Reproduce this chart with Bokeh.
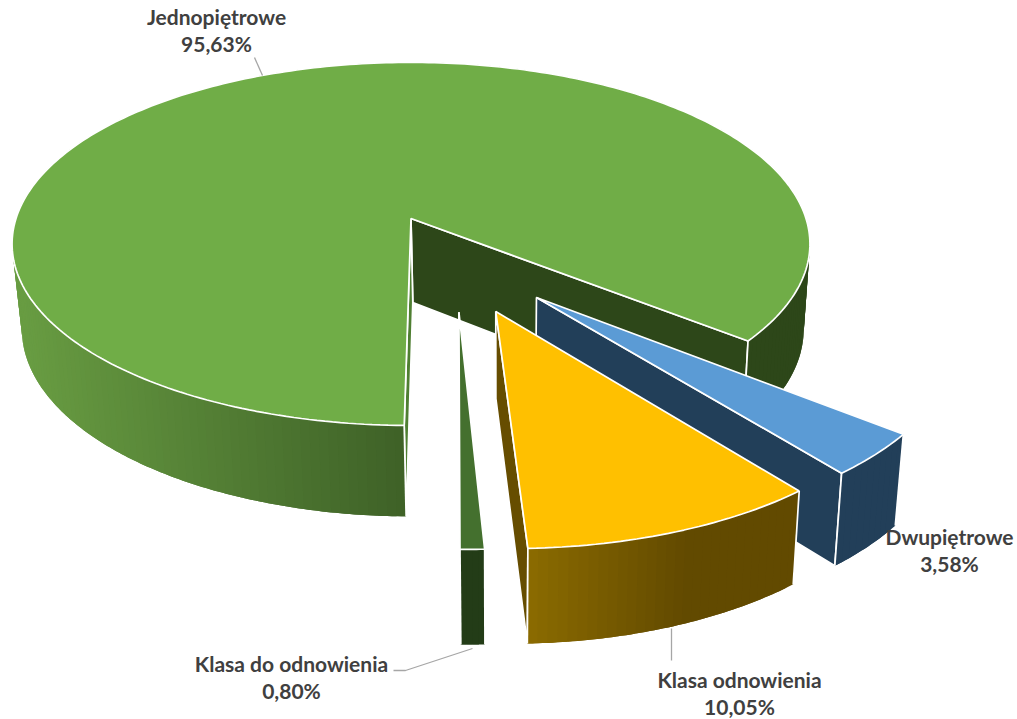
from bokeh.plotting import figure
from bokeh.embed import file_html
from bokeh.resources import INLINE
from bokeh.core.properties import value
import math

# ---- data (order: clockwise from the right-hand cut of the pie) ----
categories = ["Dwupiętrowe", "Klasa odnowienia", "Klasa do odnowienia", "Jednopiętrowe"]
percents = [3.58, 10.05, 0.80, 95.63]
percent_labels = ["3,58%", "10,05%", "0,80%", "95,63%"]

# ---- layout / projection ----
W, H = 1017, 719
CX, CY, A, B, K = 410.5, 218.0, 395.0, 178.0, -0.14
X0, SHRINK = 500.0, 0.98
START = 38.9
EXPLODE = [(0.299, 0.418), (0.20, 0.487), (0.113, 0.49), (0.0, 0.0)]
RADIUS = [0.985, 0.985, 0.985, 1.0]
TOP = ["#5B9BD5", "#FFC000", "#44702E", "#70AD47"]
WALL = ["#223F59", "#664D00", "#233C17", "#4F7F32"]


def top(ang, r, off):
    u = off[0] + r * math.cos(math.radians(ang))
    v = off[1] + r * math.sin(math.radians(ang))
    w = 1 + K * v
    return CX + A * u / w, CY + B * v / w


def drop(pt):
    x, y = pt
    return X0 + (x - X0) * SHRINK, y + 84 + (y - 218) * 0.034


def lerp_hex(c1, c2, t):
    t = max(0.0, min(1.0, t))
    a = [int(c1[i:i + 2], 16) for i in (1, 3, 5)]
    b = [int(c2[i:i + 2], 16) for i in (1, 3, 5)]
    return "#%02x%02x%02x" % tuple(round(p + (q - p) * t) for p, q in zip(a, b))


def side_colour(i, x):
    if i == 3:
        if x > 600:
            return "#2D4719"
        return lerp_hex("#689C42", "#3E6127", (x - 20) / 385)
    if i == 1:
        return lerp_hex("#8B6B00", "#624A00", (x - 527) / 160)
    return WALL[i]


p = figure(width=W, height=H, x_range=(0, W), y_range=(H, 0),
           output_backend="svg", toolbar_location=None, min_border=0,
           outline_line_color=None, background_fill_color="white")
p.axis.visible = False
p.grid.visible = False

# sweeps: small slices are drawn at their own percent, the big one fills the rest
sweeps = [v * 3.6 for v in percents[:3]]
sweeps.append(360 - sum(sweeps))
WHITE = dict(line_color="white", line_width=1.7)

angle = START
spans = []
for s in sweeps:
    spans.append((angle, angle + s))
    angle += s


def wall(i, ang):
    off, r = EXPLODE[i], RADIUS[i]
    a0, a1 = top(0, 0, off), top(ang, r, off)
    pts = [a0, a1, drop(a1), drop(a0)]
    return [q[0] for q in pts], [q[1] for q in pts]


def outer_side(i):
    a0, a1 = spans[i]
    off, r = EXPLODE[i], RADIUS[i]
    n = max(4, int((a1 - a0) / 1.2))
    xs, ys, cs = [], [], []
    for j in range(n):
        # every strip reaches into the next one so no seams show
        t0 = a0 + (a1 - a0) * j / n
        t1 = a0 + (a1 - a0) * min(j + 2, n) / n
        tm = a0 + (a1 - a0) * (j + 0.5) / n
        steps = [top(t0 + (t1 - t0) * s / 4, r, off) for s in range(5)]
        pts = steps + [drop(q) for q in reversed(steps)]
        xs.append([q[0] for q in pts])
        ys.append([q[1] for q in pts])
        cs.append(side_colour(i, top(tm, r, off)[0]))
    p.patches(xs, ys, fill_color=cs, line_color=None)
    # vertical white edges of the outer side
    for t in (a0, a1):
        q = top(t, r, off)
        b = drop(q)
        p.line([q[0], b[0]], [q[1], b[1]], **WHITE)


def top_face(i):
    a0, a1 = spans[i]
    off, r = EXPLODE[i], RADIUS[i]
    n = max(6, int((a1 - a0) / 1.0))
    pts = [top(0, 0, off)] + [top(a0 + (a1 - a0) * j / n, r, off) for j in range(n + 1)]
    p.patch([q[0] for q in pts], [q[1] for q in pts], fill_color=TOP[i], **WHITE)


# big slice first, then the exploded ones from the back to the front
g0, g1 = spans[3]
wx, wy = wall(3, g1)
p.patch(wx, wy, fill_color="#2D4719", **WHITE)
wx, wy = wall(3, g0)
p.patch(wx, wy, fill_color=WALL[3], **WHITE)
outer_side(3)
top_face(3)

for i in (0, 1, 2):
    a0, a1 = spans[i]
    wx, wy = wall(i, a1)
    p.patch(wx, wy, fill_color=WALL[i], **WHITE)
    outer_side(i)
    top_face(i)

# leader lines
LEADER = dict(line_color="#A6A6A6", line_width=1.3)
p.line([254, 262], [57, 75], **LEADER)
p.line([393, 405, 472], [670, 670, 648], **LEADER)
p.line([671, 671], [628, 660], **LEADER)

# labels
label_pos = [(949, 536), (739, 679), (291, 663), (216, 16)]
for cat, lab, (lx, ly) in zip(categories, percent_labels, label_pos):
    p.text([lx, lx], [ly, ly + 27], text=[cat, lab], text_font=value("Lato"),
           text_font_style="bold", text_font_size="21px", text_color="#404040",
           text_align="center", text_baseline="middle")

html = file_html(p, INLINE)
open("out.html", "w").write(html)
